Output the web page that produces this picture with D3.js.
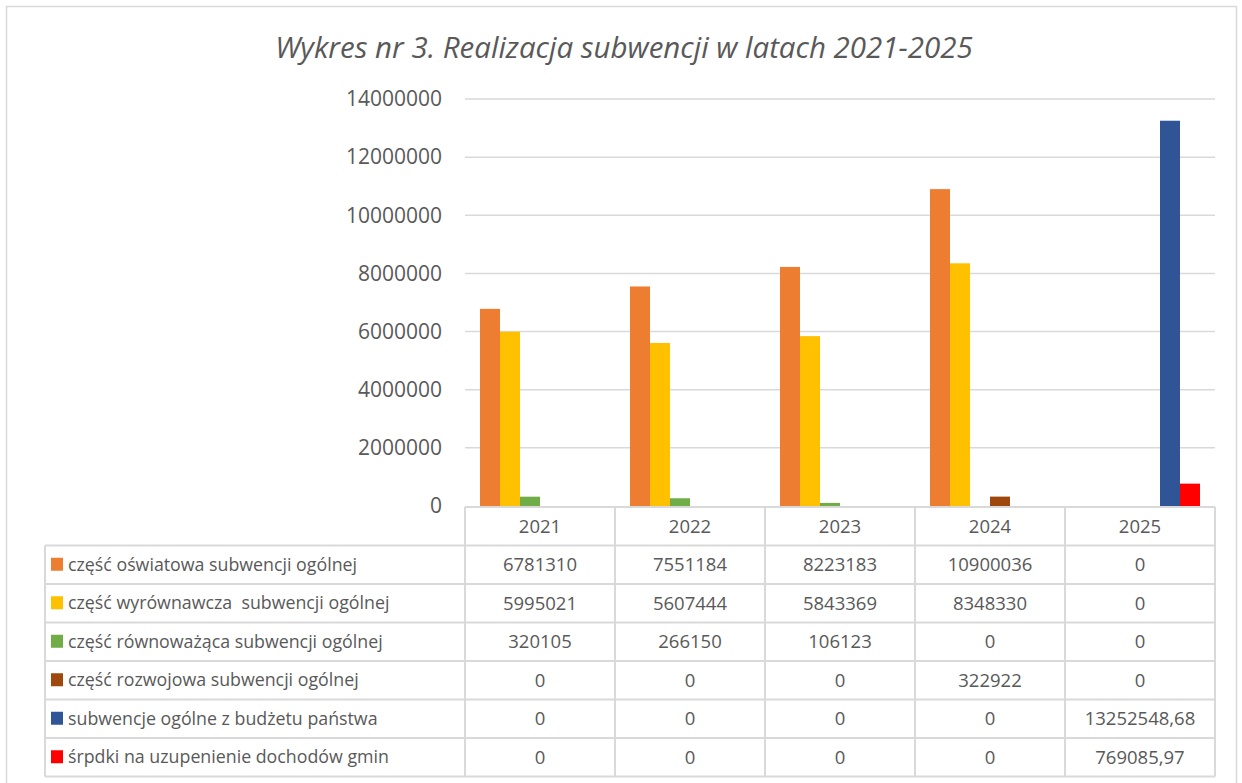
<!DOCTYPE html>
<html>
<head>
<meta charset="utf-8">
<script src="https://cdn.jsdelivr.net/npm/d3@7"></script>
<style>
  body { margin: 0; background: #fff; }
  text { font-family: "Open Sans", "Liberation Sans", sans-serif; fill: #595959; white-space: pre; }
</style>
</head>
<body>
<div id="chart"></div>
<script>
var years = ["2021", "2022", "2023", "2024", "2025"];
var seriesNames = [
  "część oświatowa subwencji ogólnej",
  "część wyrównawcza  subwencji ogólnej",
  "część równoważąca subwencji ogólnej",
  "część rozwojowa subwencji ogólnej",
  "subwencje ogólne z budżetu państwa",
  "śrpdki na uzupenienie dochodów gmin"
];
var seriesColors = ["#ed7d31", "#ffc000", "#70ad47", "#9e480e", "#2f5597", "#ff0000"];
var oswiatowa = [6781310, 7551184, 8223183, 10900036, 0];
var wyrownawcza = [5995021, 5607444, 5843369, 8348330, 0];
var rownowazaca = [320105, 266150, 106123, 0, 0];
var rozwojowa = [0, 0, 0, 322922, 0];
var budzet = [0, 0, 0, 0, 13252548.68];
var srodki = [0, 0, 0, 0, 769085.97];
var yTicks = [0, 2000000, 4000000, 6000000, 8000000, 10000000, 12000000, 14000000];

var seriesValues = [oswiatowa, wyrownawcza, rownowazaca, rozwojowa, budzet, srodki];

var width = 1242, height = 783;
var plot = {left: 465, right: 1215, top: 99, bottom: 506};
var table = {left: 45, headTop: 507, rowH: 38.5};

var svg = d3.select("#chart").append("svg")
  .attr("width", width)
  .attr("height", height);

// outer chart border
svg.append("rect")
  .attr("x", 6.5).attr("y", 6.5)
  .attr("width", 1230).attr("height", 790)
  .attr("fill", "none").attr("stroke", "#d9d9d9").attr("stroke-width", 1.5);

svg.append("text")
  .attr("x", 624).attr("y", 58)
  .attr("text-anchor", "middle")
  .style("font-style", "italic")
  .style("font-size", "29.5px")
  .text("Wykres nr 3. Realizacja subwencji w latach 2021-2025");

var x0 = d3.scaleBand().domain(years).range([plot.left, plot.right]);
var x1 = d3.scaleBand().domain(d3.range(seriesNames.length)).range([15, x0.bandwidth() - 15]);
var y = d3.scaleLinear().domain([0, 14000000]).range([plot.bottom, plot.top]);

// gridlines
svg.append("g").selectAll("line")
  .data(yTicks.slice(1))
  .enter().append("line")
    .attr("x1", plot.left).attr("x2", plot.right)
    .attr("y1", function(d) { return y(d); })
    .attr("y2", function(d) { return y(d); })
    .attr("stroke", "#d9d9d9").attr("stroke-width", 1.5);

// y axis labels
var yAxis = d3.axisLeft(y).tickValues(yTicks).tickSize(0).tickPadding(23).tickFormat(d3.format("d"));
var yg = svg.append("g").attr("transform", "translate(" + plot.left + ",0)").call(yAxis);
yg.select(".domain").remove();
yg.selectAll("text").style("font-size", "21px").style("font-family", null).attr("fill", null);

// bars
var groups = svg.append("g").selectAll("g")
  .data(years)
  .enter().append("g")
    .attr("transform", function(d) { return "translate(" + x0(d) + ",0)"; });

groups.selectAll("rect")
  .data(function(d, i) { return seriesValues.map(function(s, k) { return {k: k, v: s[i]}; }); })
  .enter().append("rect")
    .attr("x", function(d) { return x1(d.k); })
    .attr("width", x1.bandwidth())
    .attr("y", function(d) { return y(d.v); })
    .attr("height", function(d) { return y(0) - y(d.v); })
    .attr("fill", function(d) { return seriesColors[d.k]; });

// data table
var loc = d3.formatLocale({decimal: ",", thousands: "", grouping: [3]});
function fmt(v) { return Number.isInteger(v) ? loc.format("d")(v) : loc.format(".2f")(v); }

var tableBottom = table.headTop + table.rowH * (seriesNames.length + 1);
var lines = svg.append("g").attr("stroke", "#d9d9d9").attr("stroke-width", 2);

// header row lines
lines.append("line").attr("x1", plot.left).attr("x2", plot.right)
  .attr("y1", table.headTop).attr("y2", table.headTop);
// row lines
d3.range(seriesNames.length + 1).forEach(function(r) {
  var yy = table.headTop + table.rowH * (r + 1);
  lines.append("line").attr("x1", table.left).attr("x2", plot.right).attr("y1", yy).attr("y2", yy);
});
// verticals
lines.append("line").attr("x1", table.left).attr("x2", table.left)
  .attr("y1", table.headTop + table.rowH).attr("y2", tableBottom);
years.concat(["end"]).forEach(function(yr, i) {
  var xx = plot.left + x0.bandwidth() * i;
  lines.append("line").attr("x1", xx).attr("x2", xx)
    .attr("y1", table.headTop).attr("y2", tableBottom);
});

// header labels
svg.append("g").selectAll("text")
  .data(years)
  .enter().append("text")
    .attr("x", function(d) { return x0(d) + x0.bandwidth() / 2; })
    .attr("y", table.headTop + table.rowH / 2 + 6.5)
    .attr("text-anchor", "middle")
    .style("font-size", "18.5px")
    .text(function(d) { return d; });

// legend rows
var rows = svg.append("g").selectAll("g")
  .data(seriesNames)
  .enter().append("g")
    .attr("transform", function(d, i) { return "translate(0," + (table.headTop + table.rowH * (i + 1)) + ")"; });

rows.append("rect")
  .attr("x", 51).attr("y", table.rowH / 2 - 7)
  .attr("width", 12).attr("height", 13)
  .attr("fill", function(d, i) { return seriesColors[i]; });

rows.append("text")
  .attr("x", 68).attr("y", table.rowH / 2 + 6)
  .style("font-size", "17.8px")
  .text(function(d) { return d; });

rows.selectAll(".val")
  .data(function(d, i) { return seriesValues[i]; })
  .enter().append("text")
    .attr("class", "val")
    .attr("x", function(d, j) { return x0(years[j]) + x0.bandwidth() / 2; })
    .attr("y", table.rowH / 2 + 6.5)
    .attr("text-anchor", "middle")
    .style("font-size", "18.5px")
    .text(function(d) { return fmt(d); });
</script>
</body>
</html>
